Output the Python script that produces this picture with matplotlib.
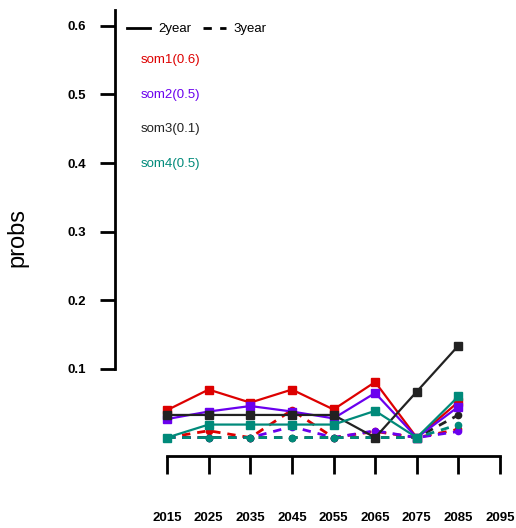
import matplotlib
matplotlib.use("Agg")
from matplotlib import pyplot as plt
from matplotlib.lines import Line2D

years = [2015, 2025, 2035, 2045, 2055, 2065, 2075, 2085]
xticks = [2015, 2025, 2035, 2045, 2055, 2065, 2075, 2085, 2095]
yticks = [0.1, 0.2, 0.3, 0.4, 0.5, 0.6]

names = ["som1(0.6)", "som2(0.5)", "som3(0.1)", "som4(0.5)"]
colors = ["#dd0000", "#6a00ee", "#222222", "#008a7a"]

# 2year (solid, squares)
som1_2 = [0.040, 0.070, 0.051, 0.070, 0.041, 0.081, 0.0, 0.052]
som2_2 = [0.027, 0.038, 0.046, 0.038, 0.028, 0.065, 0.0, 0.045]
som3_2 = [0.033, 0.033, 0.033, 0.033, 0.033, 0.0, 0.067, 0.134]
som4_2 = [0.0, 0.019, 0.019, 0.019, 0.019, 0.039, 0.0, 0.060]
# 3year (dashed, circles)
som1_3 = [0.0, 0.010, 0.0, 0.040, 0.0, 0.009, 0.0, 0.012]
som2_3 = [0.0, 0.0, 0.0, 0.016, 0.0, 0.010, 0.0, 0.009]
som3_3 = [0.0, 0.0, 0.0, 0.0, 0.0, 0.0, 0.0, 0.033]
som4_3 = [0.0, 0.0, 0.0, 0.0, 0.0, 0.0, 0.0, 0.019]

two = [som1_2, som2_2, som3_2, som4_2]
three = [som1_3, som2_3, som3_3, som4_3]

plt.rcParams["font.family"] = ["Liberation Sans", "DejaVu Sans"]

fig = plt.figure(figsize=(5.16, 5.28), dpi=100)
ax = fig.add_axes([115 / 516, 72 / 528, 395 / 516, 446 / 528])

for vals, c in zip(three, colors):
    ax.plot(years, vals, color=c, lw=2, ls=(0, (3, 2.5)), marker="o", ms=4.5)
for vals, c in zip(two, colors):
    ax.plot(years, vals, color=c, lw=1.6, marker="s", ms=5.5)

ax.set_xlim(2002.5, 2097.4)
ax.set_ylim(-0.0268, 0.623)
for s in ["top", "right"]:
    ax.spines[s].set_visible(False)
ax.spines["left"].set_bounds(0.1, 0.623)
ax.spines["bottom"].set_bounds(2015, 2095)
ax.spines["left"].set_linewidth(2)
ax.spines["bottom"].set_linewidth(2)

ax.set_yticks(yticks)
ax.set_yticklabels([f"{v:.1f}" for v in yticks], fontweight="bold", fontsize=9.5)
ax.set_xticks(xticks)
ax.set_xticklabels([str(v) for v in xticks], fontweight="bold", fontsize=9.5)
ax.tick_params(axis="y", length=11, width=2, pad=10)
ax.tick_params(axis="x", length=13, width=2, pad=27)
ax.set_ylabel("probs", fontsize=17)
ax.yaxis.set_label_coords(-0.22, 0.49)

handles = [Line2D([], [], color="black", lw=2),
           Line2D([], [], color="black", lw=2, ls=(0, (3, 3)))]
ax.legend(handles, ["2year", "3year"], loc="upper left", ncol=2, frameon=False,
          fontsize=9.5, bbox_to_anchor=(0.0, 0.997), handlelength=1.75,
          columnspacing=0.9, handletextpad=0.6)

for i, (n, c) in enumerate(zip(names, colors)):
    ax.text(0.066, 0.888 - i * 0.0775, n, color=c, fontsize=9.5,
            transform=ax.transAxes, va="center")

fig.savefig("out.png", dpi=100)
